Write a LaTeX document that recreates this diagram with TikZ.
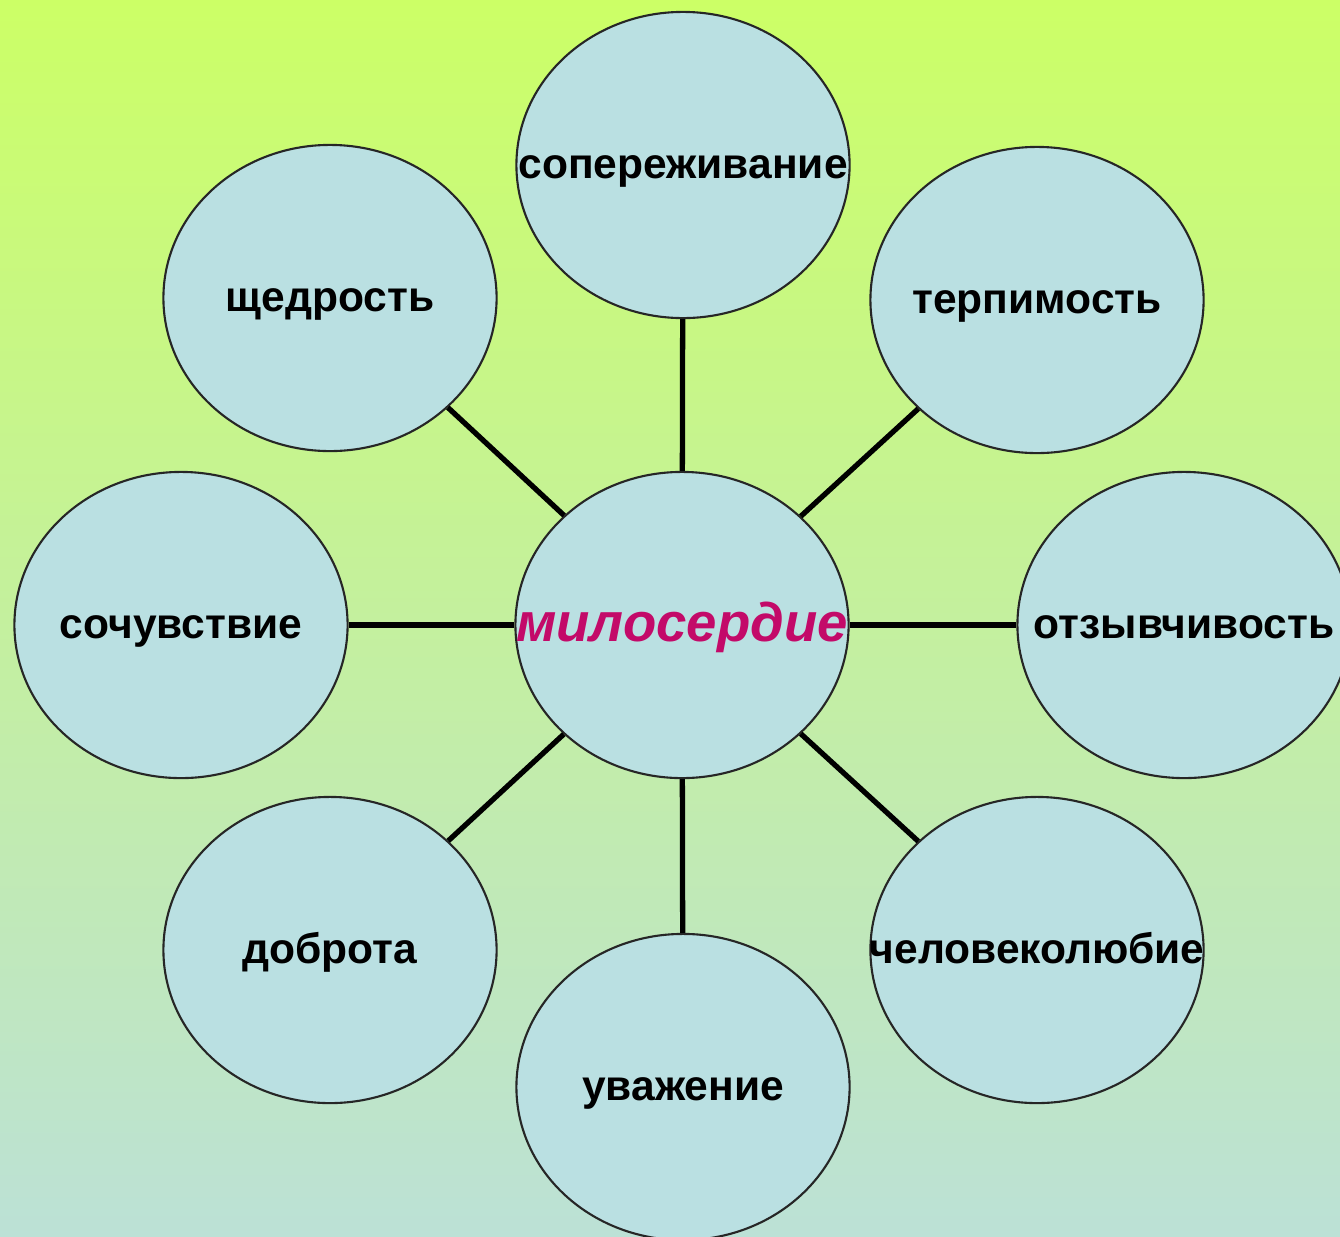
\documentclass[tikz,border=0pt]{standalone}
\usepackage{fontspec}
\setmainfont{Liberation Sans}
\usetikzlibrary{shapes,positioning}

\definecolor{bgtop}{RGB}{204,255,102}
\definecolor{bgbottom}{RGB}{188,225,214}
\definecolor{bubblefill}{RGB}{186,224,226}
\definecolor{mercyred}{RGB}{195,10,105}

\newcommand{\word}[2][3.8pt]{\makebox[0pt]{\smash{\raisebox{-#1}{#2}}}}

\begin{document}
\begin{tikzpicture}[
    x=0.01cm, y=-0.01cm,
    bubble/.style={ellipse, draw=black!85, line width=0.6pt, fill=bubblefill,
        inner sep=0pt, minimum width=3.33cm, minimum height=3.06cm,
        font=\fontsize{12.1}{14}\selectfont\bfseries},
    link/.style={line width=1.5pt, black}
]
    % Background
    \useasboundingbox (0,0) rectangle (1340,1236);
    \shade[top color=bgtop, bottom color=bgbottom] (0,0) rectangle (1340,1236);

    % Nodes
    \node[bubble] (mercy) at (682,625)
        {\word[4.6pt]{\fontsize{15.5}{18}\selectfont\bfseries\itshape\color{mercyred}милосердие}};
    \node[bubble] (empathy) at (683,165) {\word{сопереживание}};
    \node[bubble] (generosity) at (330,298) {\word{щедрость}};
    \node[bubble] (tolerance) at (1037,300) {\word{терпимость}};
    \node[bubble] (sympathy) at (181,625) {\word{сочувствие}};
    \node[bubble] (response) at (1184,625) {\word{отзывчивость}};
    \node[bubble] (kindness) at (330,950) {\word{доброта}};
    \node[bubble] (humanity) at (1037,950) {\word{человеколюбие}};
    \node[bubble] (respect) at (683,1087) {\word{уважение}};

    % Links
    \foreach \n in {empathy,generosity,tolerance,sympathy,response,kindness,humanity,respect}
        \draw[link] (mercy) -- (\n);
\end{tikzpicture}
\end{document}
